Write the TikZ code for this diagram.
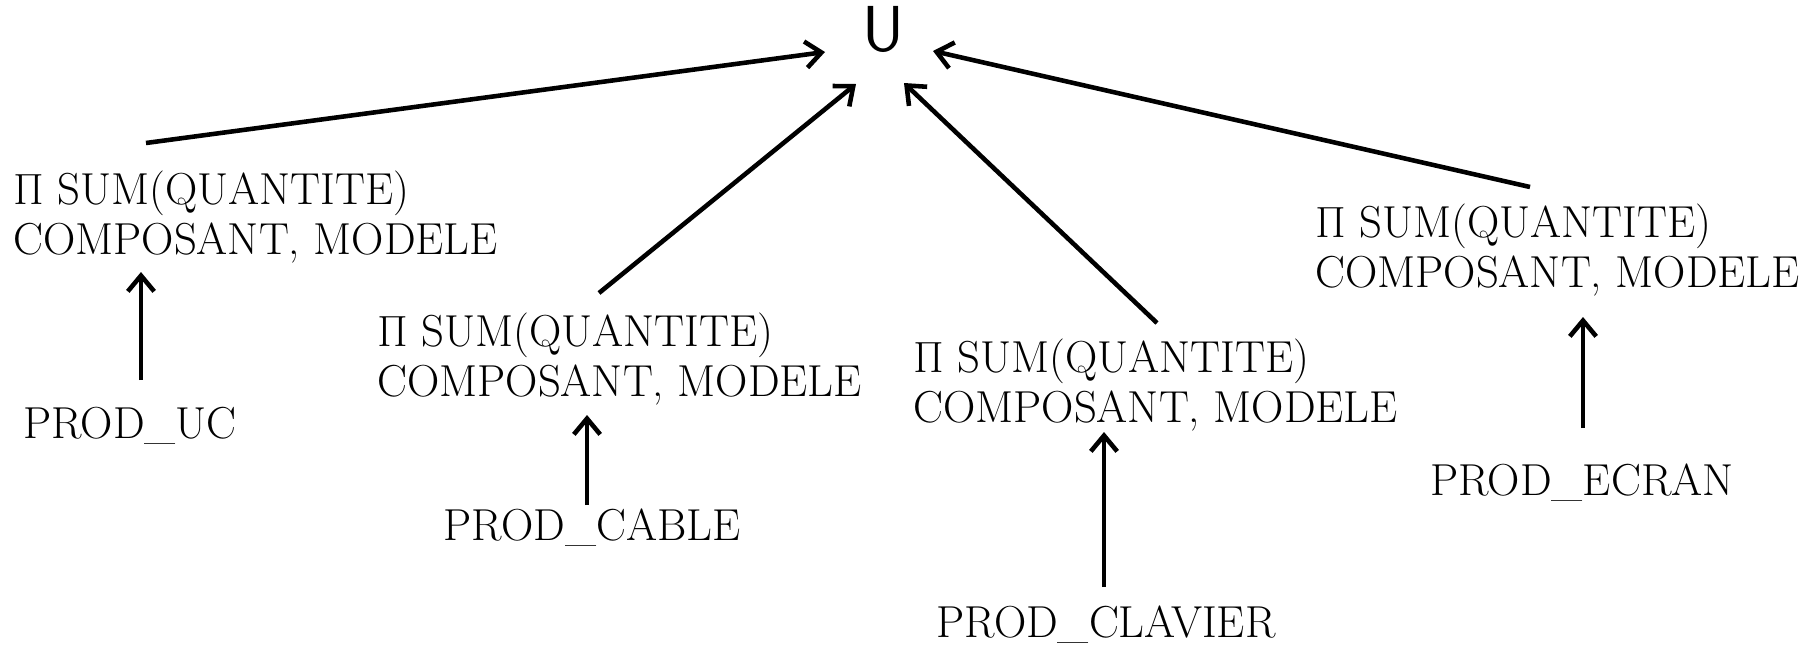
\documentclass[tikz,border=0pt]{standalone}
\usepackage{amsmath}
\usepackage{tikz}
\usetikzlibrary{arrows.meta}
\usetikzlibrary{scopes}

\begin{document}
\begin{tikzpicture}[x=0.02cm,y=-0.02cm]
\useasboundingbox (0,0) rectangle (1814,646);
\begin{scope}[every node/.style={inner sep=0pt,font=\fontsize{25.5}{27.9}\selectfont}]
    \node[anchor=base,font=\fontsize{37}{40}\selectfont\sffamily] (U) at (883,51) {U};
    \node[anchor=base west,align=left] (P1) at (13,254) {$\Pi$ SUM(QUANTITE)\\COMPOSANT, MODELE};
    \node[anchor=base west,align=left] (P2) at (377,396) {$\Pi$ SUM(QUANTITE)\\COMPOSANT, MODELE};
    \node[anchor=base west,align=left] (P3) at (913,422) {$\Pi$ SUM(QUANTITE)\\COMPOSANT, MODELE};
    \node[anchor=base west,align=left] (P4) at (1315,287) {$\Pi$ SUM(QUANTITE)\\COMPOSANT, MODELE};
    \node[anchor=base] (T1) at (130,438) {PROD\_UC};
    \node[anchor=base] (T2) at (592,540) {PROD\_CABLE};
    \node[anchor=base] (T3) at (1106,637) {PROD\_CLAVIER};
    \node[anchor=base] (T4) at (1582,495) {PROD\_ECRAN};
\end{scope}

\begin{scope}[>={Straight Barb[length=9pt,width=15pt]},
              every edge/.style={draw=black,line width=2.6pt}]
    \path [->] ([shift={(133,-111)}]P1.base west) edge ([shift={(-58,1)}]U.base);
    \path [->] ([shift={(222,-103)}]P2.base west) edge ([shift={(-27,33)}]U.base);
    \path [->] ([shift={(244,-99)}]P3.base west) edge ([shift={(21,32)}]U.base);
    \path [->] ([shift={(215,-100)}]P4.base west) edge ([shift={(50,0)}]U.base);
    \path [->] ([shift={(11,-58)}]T1.base) edge ([shift={(128,18)}]P1.base west);
    \path [->] ([shift={(-5,-35)}]T2.base) edge ([shift={(210,19)}]P2.base west);
    \path [->] ([shift={(-2,-50)}]T3.base) edge ([shift={(191,10)}]P3.base west);
    \path [->] ([shift={(1,-67)}]T4.base) edge ([shift={(268,30)}]P4.base west);
\end{scope}
\end{tikzpicture}
\end{document}
